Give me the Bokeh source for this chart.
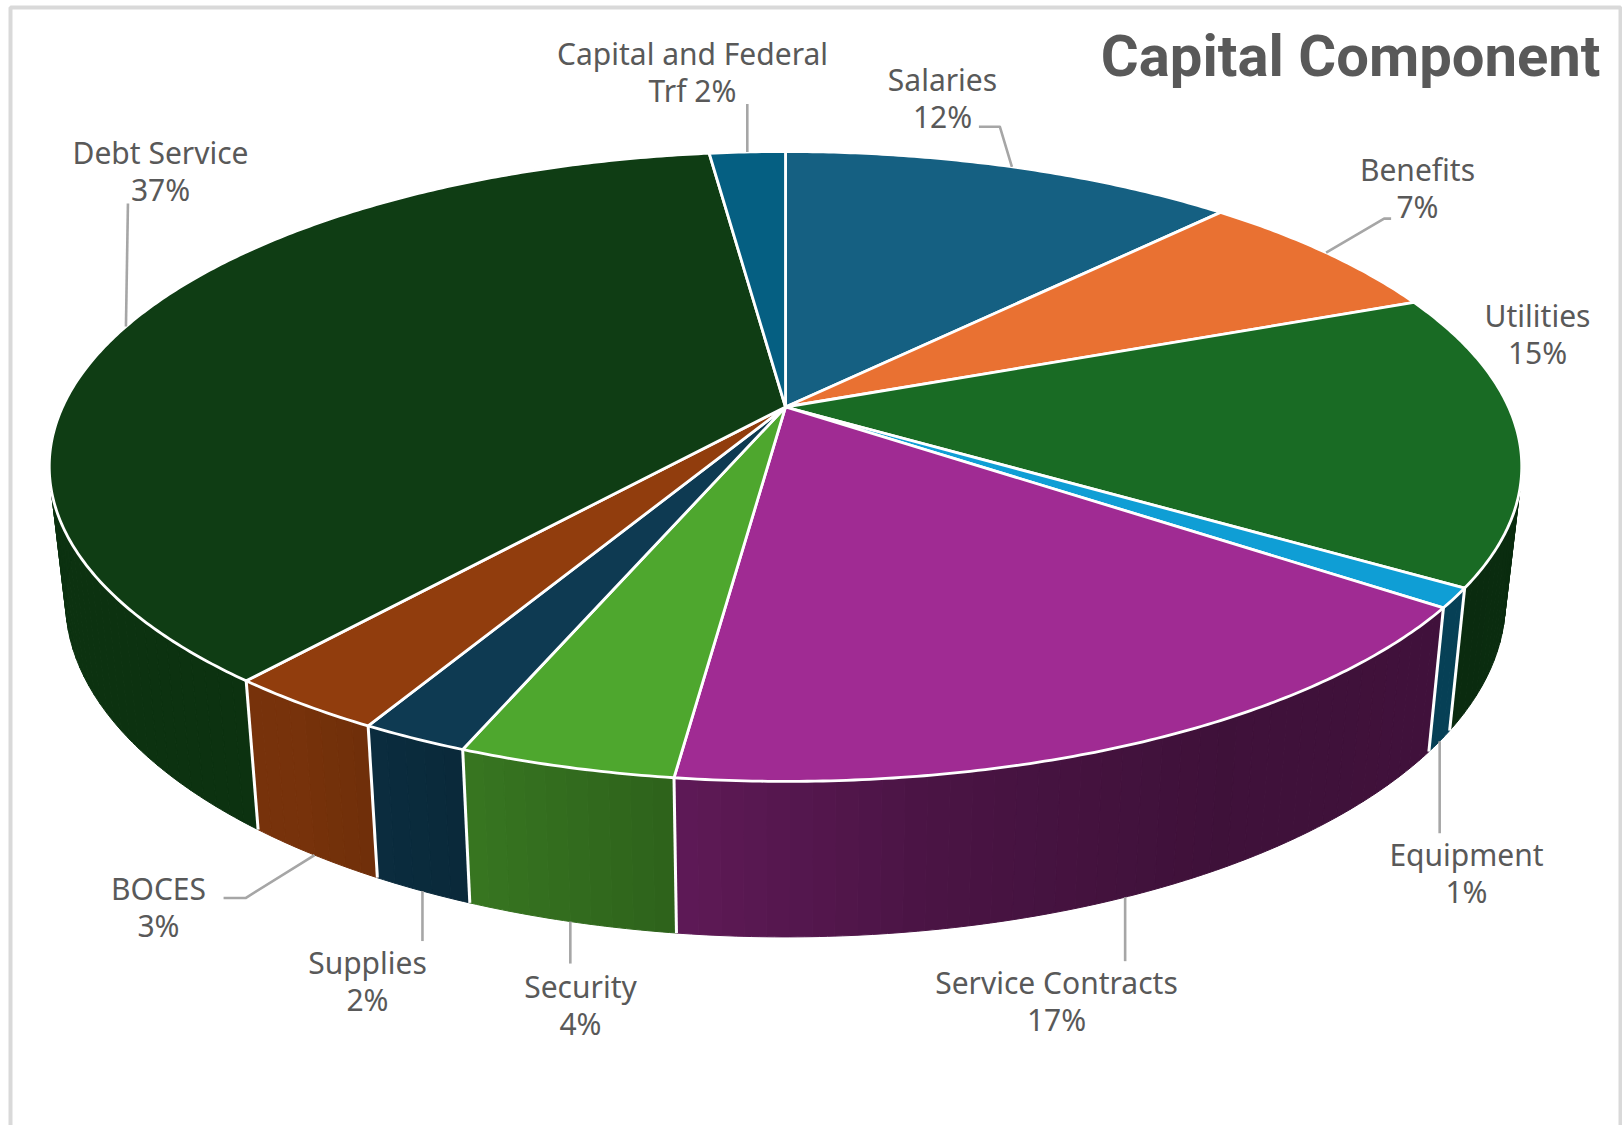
import numpy as np
from bokeh.core.properties import value
from bokeh.embed import file_html
from bokeh.models import Range1d
from bokeh.plotting import figure
from bokeh.resources import INLINE

# Budget shares, clockwise from twelve o'clock
categories = ["Salaries", "Benefits", "Utilities", "Equipment", "Service Contracts",
              "Security", "Supplies", "BOCES", "Debt Service", "Capital and Federal Trf"]
shares = [12, 7, 15, 1, 17, 4, 2, 3, 37, 2]
slice_colors = ["#156082", "#E97132", "#196B24", "#0F9ED5", "#A02B93",
                "#4EA72E", "#0E3A52", "#913D0D", "#0F3D14", "#055F82"]

W, H = 1622, 1125
TEXT = "#595959"
LEADER = "#A6A6A6"
LABEL_FONT = "Noto Sans"
LABEL_SIZE = "30px"

# Perspective of the disc: apex position, radii and foreshortening
CX = 785.0
TILT = 0.1888
TOP_FACE = dict(y0=406.5, rx=723.0, ry=303.7)
BOTTOM_FACE = dict(y0=537.0, rx=707.0, ry=324.0)

# Lateral shading of the wall as a function of the angle
SHADE_ANGLE = [0, 90, 150, 170, 186, 201, 215, 290, 360]
SHADE_LEVEL = [0.42, 0.42, 0.39, 0.46, 0.58, 0.70, 0.82, 0.83, 0.83]


def project(theta_deg, face):
    t = np.radians(np.asarray(theta_deg, dtype=float))
    u, v = np.sin(t), np.cos(t)
    d = 1 + TILT * v
    return CX + face["rx"] * u / d, face["y0"] - face["ry"] * v / d


def darker(hex_color, f):
    r, g, b = (int(hex_color[i:i + 2], 16) for i in (1, 3, 5))
    return "#%02x%02x%02x" % (round(r * f), round(g * f), round(b * f))


p = figure(width=W, height=H, output_backend="svg", toolbar_location=None,
           x_range=Range1d(0, W), y_range=Range1d(H, 0),
           min_border=0, outline_line_color=None, background_fill_color="white")
p.axis.visible = False
p.grid.visible = False

# Chart frame
p.quad(left=[10], right=[1620], top=[7], bottom=[1140], fill_color=None,
       line_color="#D9D9D9", line_width=4)

edges = np.cumsum([0] + shares) * 3.6

# Side wall, drawn as narrow strips so the shading runs along the rim
for i, color in enumerate(slice_colors):
    a0, a1 = edges[i], edges[i + 1]
    steps = max(2, int((a1 - a0) / 1.5) + 1)
    grid = np.linspace(a0, a1, steps + 1)
    xs, ys, fills = [], [], []
    for s0, s1 in zip(grid[:-1], grid[1:]):
        arc = np.linspace(s0, s1, 4)
        tx, ty = project(arc, TOP_FACE)
        bx, by = project(arc[::-1], BOTTOM_FACE)
        xs.append(np.concatenate([tx, bx]))
        ys.append(np.concatenate([ty, by]))
        fills.append(darker(color, float(np.interp((s0 + s1) / 2, SHADE_ANGLE, SHADE_LEVEL))))
    p.patches(xs, ys, fill_color=fills, line_color=fills, line_width=1)

# Seams between wall segments on the visible side
for a in edges:
    if 115 < a < 250:
        tx, ty = project(a, TOP_FACE)
        bx, by = project(a, BOTTOM_FACE)
        p.line([float(tx), float(bx)], [float(ty), float(by)], line_color="white", line_width=3)

# Top face
for i, color in enumerate(slice_colors):
    arc = np.linspace(edges[i], edges[i + 1], max(4, int(edges[i + 1] - edges[i]) * 2))
    ax, ay = project(arc, TOP_FACE)
    p.patch(np.concatenate([[CX], ax]), np.concatenate([[TOP_FACE["y0"]], ay]),
            fill_color=color, line_color="white", line_width=2.8, line_join="round")

# Leader lines start on the rim at each slice's mid-angle; bends are pixel offsets from there
mids = (edges[:-1] + edges[1:]) / 2
leader_paths = {
    "Salaries": ("top", [(-12, -40), (-33, -40)]),
    "Benefits": ("top", [(58, -34), (65, -34)]),
    "Equipment": ("bottom", [(0, 92)]),
    "Service Contracts": ("bottom", [(0, 64)]),
    "Security": ("bottom", [(0, 42)]),
    "Supplies": ("bottom", [(0, 50)]),
    "BOCES": ("bottom", [(-69, 43), (-91, 43)]),
    "Debt Service": ("top", [(2, -123)]),
    "Capital and Federal Trf": ("top", [(0, -48)]),
}
for name, (face, bends) in leader_paths.items():
    ang = mids[categories.index(name)]
    ox, oy = project(ang, TOP_FACE if face == "top" else BOTTOM_FACE)
    ox, oy = float(ox), float(oy)
    p.line([ox] + [ox + dx for dx, _ in bends], [oy] + [oy + dy for _, dy in bends],
           line_color=LEADER, line_width=2.6, line_join="round")

# Data labels: name above its percentage
label_centres = {
    "Salaries": (942, 79), "Benefits": (1417, 169), "Utilities": (1537, 315),
    "Equipment": (1466, 854), "Service Contracts": (1056, 982), "Security": (580, 986),
    "Supplies": (367, 962), "BOCES": (158, 888), "Debt Service": (160, 152),
}
LINE_STEP = 37
for name, (x, y) in label_centres.items():
    pct = shares[categories.index(name)]
    p.text([x, x], [y, y + LINE_STEP], text=[name, f"{pct}%"], text_align="center",
           text_baseline="middle", text_color=TEXT, text_font=value(LABEL_FONT),
           text_font_size=LABEL_SIZE)
trf = shares[categories.index("Capital and Federal Trf")]
p.text([692, 692], [53, 90], text=["Capital and Federal", f"Trf {trf}%"], text_align="center",
       text_baseline="middle", text_color=TEXT, text_font=value(LABEL_FONT),
       text_font_size=LABEL_SIZE)

# Chart title
p.text([1600], [55], text=["Capital Component"], text_align="right", text_baseline="middle",
       text_color=TEXT, text_font=value("Roboto"), text_font_style="bold",
       text_font_size="58px")

open("out.html", "w").write(file_html(p, INLINE))
